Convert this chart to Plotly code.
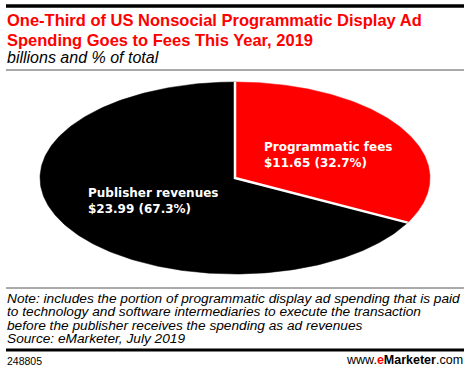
import numpy as np
import plotly.graph_objects as go

# ---- data ----
categories = ["Programmatic fees", "Publisher revenues"]
values = [11.65, 23.99]
shares = [32.7, 67.3]
colors = ["#ff0000", "#000000"]

title_lines = ["One-Third of US Nonsocial Programmatic Display Ad",
               "Spending Goes to Fees This Year, 2019"]
subtitle = "billions and % of total"
note_lines = [
    "Note: includes the portion of programmatic display ad spending that is paid",
    "to technology and software intermediaries to execute the transaction",
    "before the publisher receives the spending as ad revenues",
    "Source: eMarketer, July 2019",
]
chart_id = "248805"

W, H = 470, 372
cx, cy, rx, ry = 235, 178, 195, 96
FONT = "Liberation Sans, Arial, sans-serif"
LFONT = "DejaVu Sans, Verdana, sans-serif"

fig = go.Figure()

total = sum(values)
start = 0.0
label_pos = [(263, 151), (87, 197)]
for i, (cat, v, s, c) in enumerate(zip(categories, values, shares, colors)):
    frac = v / total
    th = np.linspace(start, start + frac * 2 * np.pi, 240)
    xs = np.concatenate([[cx], cx + rx * np.sin(th), [cx]])
    ys = np.concatenate([[cy], cy - ry * np.cos(th), [cy]])
    fig.add_trace(go.Scatter(x=xs, y=ys, fill="toself", fillcolor=c,
                             mode="lines", line=dict(color=c, width=0.5),
                             hoverinfo="skip", showlegend=False))
    start += frac * 2 * np.pi

# white separator lines
b = values[0] / total * 2 * np.pi
fig.add_trace(go.Scatter(x=[cx, cx, cx + rx * np.sin(b)],
                         y=[cy - ry, cy, cy - ry * np.cos(b)],
                         mode="lines", line=dict(color="white", width=2.5),
                         hoverinfo="skip", showlegend=False))


def text_line(x, baseline, txt, size, family, color="black", anchor="left"):
    fig.add_annotation(x=x, y=baseline - 0.33 * size, xref="x", yref="y",
                       xanchor=anchor, yanchor="middle", text=txt, showarrow=False,
                       borderpad=0,
                       font=dict(family=family, size=size, color=color))


for (lx, base), cat, v, s in zip(label_pos, categories, values, shares):
    text_line(lx, base, f"<b>{cat}</b>", 12, LFONT, "white")
    text_line(lx, base + 15.8, f"<b>${v:.2f} ({s}%)</b>", 12, LFONT, "white")

text_line(6, 25, "<b>" + title_lines[0] + "</b>", 16.5, FONT, "#ff0000")
text_line(6, 45, "<b>" + title_lines[1] + "</b>", 16.5, FONT, "#ff0000")
text_line(6, 63, "<i>" + subtitle + "</i>", 16, FONT)
for k, ln in enumerate(note_lines):
    text_line(6, 303 + k * 13.4, "<i>" + ln + "</i>", 13.7, FONT)
text_line(6, 364, chart_id, 10.5, FONT)
text_line(464, 364, "www.<b><span style='color:#ff0000'>e</span>Marketer</b>.com", 12.5, FONT,
          anchor="right")

shapes = [
    dict(type="line", x0=6, x1=464, y0=6, y1=6, line=dict(color="black", width=3.5)),
    dict(type="line", x0=6, x1=464, y0=70, y1=70, line=dict(color="#555555", width=1)),
    dict(type="line", x0=6, x1=464, y0=288, y1=288, line=dict(color="#555555", width=1)),
    dict(type="line", x0=6, x1=464, y0=350, y1=350, line=dict(color="black", width=3)),
]
for s in shapes:
    s.update(xref="x", yref="y", layer="above")

fig.update_layout(
    width=W, height=H, margin=dict(l=0, r=0, t=0, b=0),
    paper_bgcolor="white", plot_bgcolor="white", shapes=shapes,
    xaxis=dict(range=[0, W], visible=False, fixedrange=True),
    yaxis=dict(range=[H, 0], visible=False, fixedrange=True),
)
fig.write_html("out.html", config={"displayModeBar": False},
               post_script="document.body.style.margin='0';document.body.style.overflow='hidden';")
